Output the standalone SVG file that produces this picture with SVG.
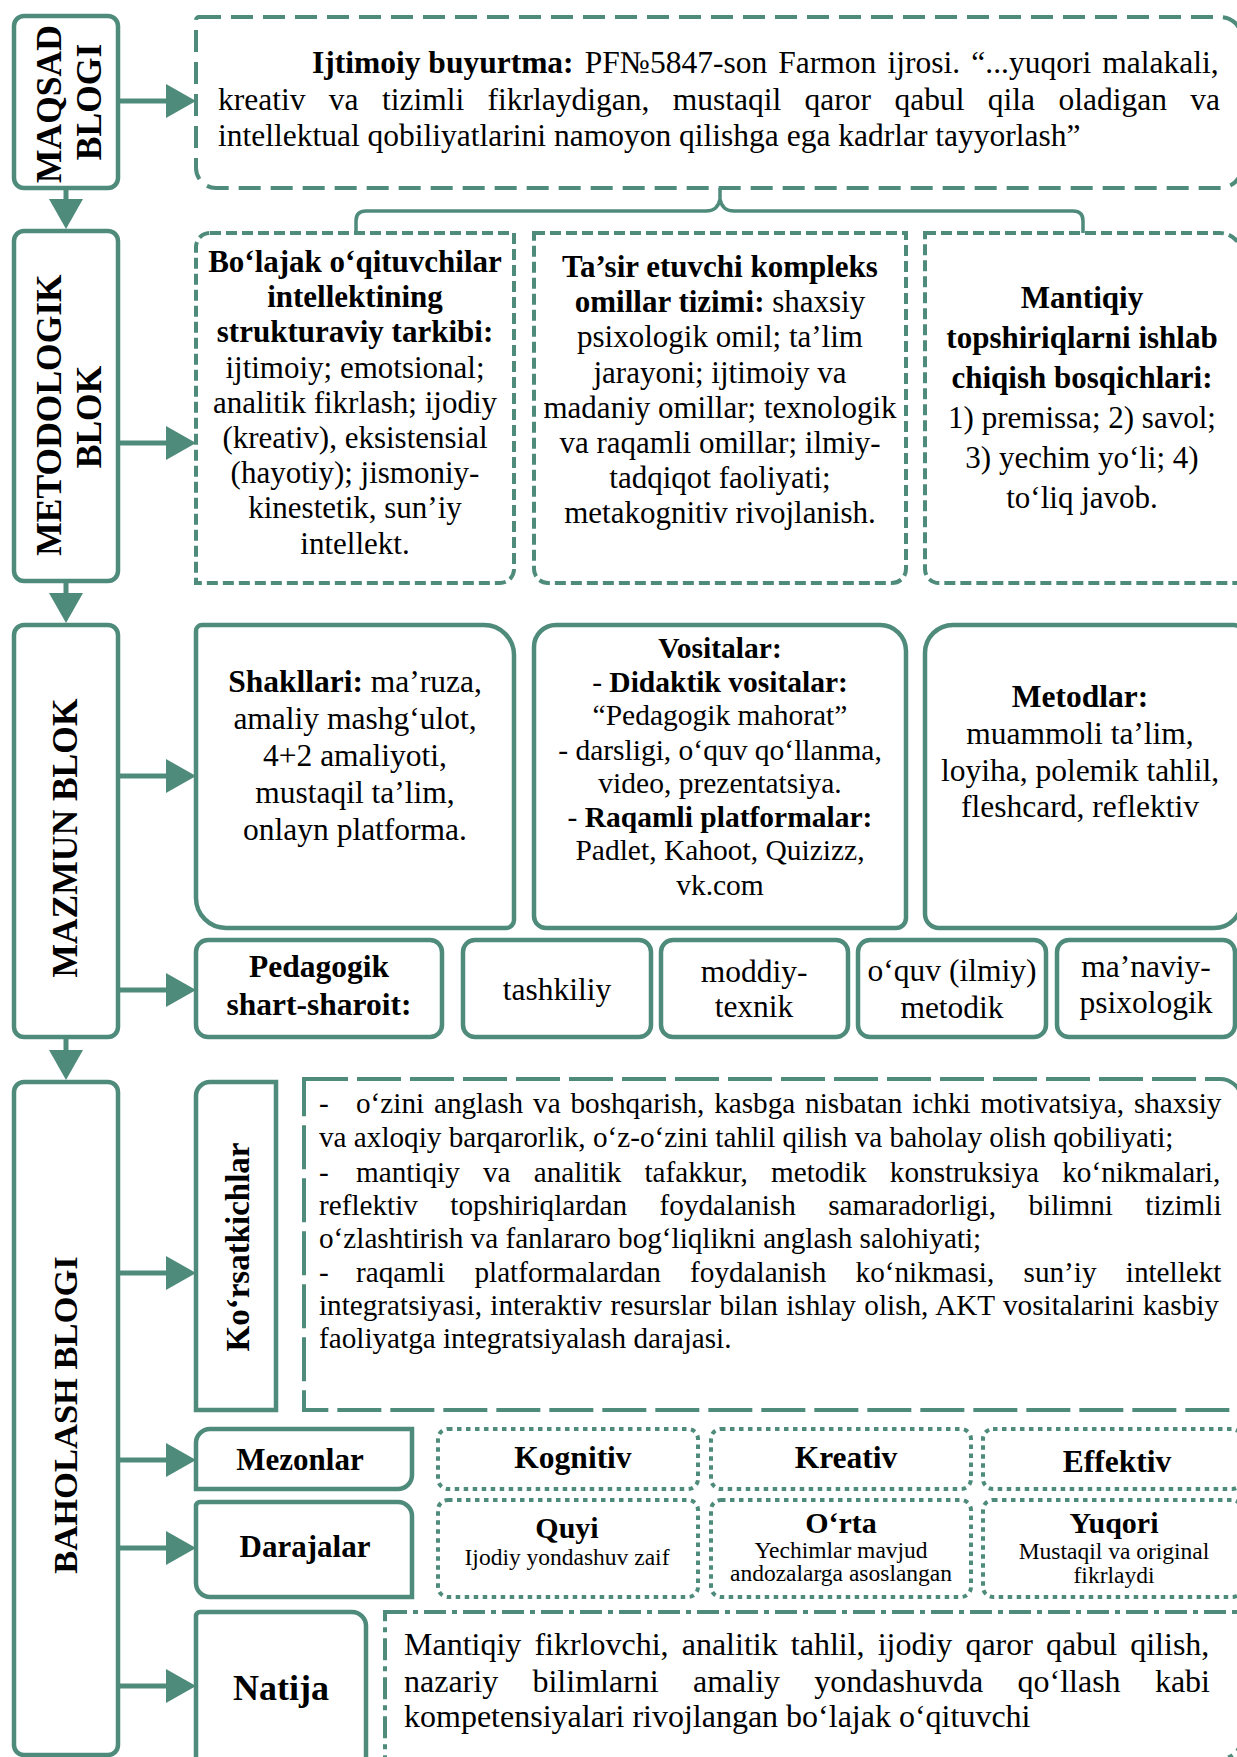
<svg xmlns="http://www.w3.org/2000/svg" width="1237" height="1757" viewBox="0 0 1237 1757">
<style>
.bx{fill:#fff;stroke:#4E8B7B;stroke-width:4.5}
.sd{fill:#fff;stroke:#4E8B7B;stroke-width:4;stroke-dasharray:22 10}
.md{fill:#fff;stroke:#4E8B7B;stroke-width:4;stroke-dasharray:11 5}
.ld{fill:#fff;stroke:#4E8B7B;stroke-width:4;stroke-dasharray:44 9}
.dt{fill:#fff;stroke:#4E8B7B;stroke-width:4;stroke-dasharray:4.5 4.5}
.dd{fill:#fff;stroke:#4E8B7B;stroke-width:4;stroke-dasharray:22 6 5 6}
.ln{stroke:#4E8B7B;stroke-width:5;fill:none}
.brc{stroke:#4E8B7B;stroke-width:3.5;fill:none}
text{font-family:"Liberation Serif","Times New Roman",serif;fill:#000;font-size:31.5px}
.b{font-weight:bold}
.c{text-anchor:middle}
.s31{font-size:31px}
.s29{font-size:29.2px}
.s295{font-size:29.5px}
.s23{font-size:23.5px}
.s30{font-size:30px}
.rl{font-size:35.5px;font-weight:bold;text-anchor:middle}
</style>
<defs>
<marker id="ah" markerUnits="userSpaceOnUse" markerWidth="30" markerHeight="34" refX="15" refY="17" orient="auto">
<path d="M0,0 L30,17 L0,34 Z" fill="#4E8B7B"/>
</marker>
</defs>
<rect width="1237" height="1757" fill="#fff"/>

<g id="maqsad">
<rect class="bx" x="14" y="16" width="104" height="172" rx="10"/>
<text class="rl" transform="translate(61,104) rotate(-90)">MAQSAD</text>
<text class="rl" transform="translate(101,102) rotate(-90)">BLOGI</text>
</g>
<g id="ijtimoiy">
<path class="sd" d="M199,17 H1220 A22,22 0 0 1 1242,39 V166 A22,22 0 0 1 1220,188 H216 A20,20 0 0 1 196,168 V20 A3,3 0 0 1 199,17 Z"/>
<text x="312" y="73"><tspan class="b">Ijtimoiy buyurtma:</tspan><tspan word-spacing="3.3"> PF№5847-son Farmon ijrosi. “...yuqori malakali,</tspan></text>
<text x="218" y="110" word-spacing="15.5">kreativ va tizimli fikrlaydigan, mustaqil qaror qabul qila oladigan va</text>
<text x="218" y="146">intellektual qobiliyatlarini namoyon qilishga ega kadrlar tayyorlash”</text>
</g>

<g id="metodologik">
<rect class="bx" x="14" y="231" width="104" height="350" rx="10"/>
<text class="rl" transform="translate(61,415) rotate(-90)">METODOLOGIK</text>
<text class="rl" transform="translate(101,417) rotate(-90)">BLOK</text>
</g>
<g id="bolajak">
<path class="md" d="M210,233 H514 V569 A14,14 0 0 1 500,583 H196 V247 A14,14 0 0 1 210,233 Z"/>
<text class="c b s31" x="355" y="272">Bo‘lajak o‘qituvchilar</text>
<text class="c b s31" x="355" y="307">intellektining</text>
<text class="c b s31" x="355" y="342">strukturaviy tarkibi:</text>
<text class="c s31" x="355" y="378">ijtimoiy; emotsional;</text>
<text class="c s31" x="355" y="413">analitik fikrlash; ijodiy</text>
<text class="c s31" x="355" y="448">(kreativ), eksistensial</text>
<text class="c s31" x="355" y="483">(hayotiy); jismoniy-</text>
<text class="c s31" x="355" y="518">kinestetik, sun’iy</text>
<text class="c s31" x="355" y="554">intellekt.</text>
</g>
<g id="tasir">
<path class="md" d="M534,233 H906 V569 A14,14 0 0 1 892,583 H548 A14,14 0 0 1 534,569 Z"/>
<text class="c b s31" x="720" y="277">Ta’sir etuvchi kompleks</text>
<text class="c s31" x="720" y="312"><tspan class="b">omillar tizimi:</tspan> shaxsiy</text>
<text class="c s31" x="720" y="347">psixologik omil; ta’lim</text>
<text class="c s31" x="720" y="383">jarayoni; ijtimoiy va</text>
<text class="c s31" x="720" y="418">madaniy omillar; texnologik</text>
<text class="c s31" x="720" y="453">va raqamli omillar; ilmiy-</text>
<text class="c s31" x="720" y="488">tadqiqot faoliyati;</text>
<text class="c s31" x="720" y="523">metakognitiv rivojlanish.</text>
</g>
<g id="mantiqiy">
<path class="md" d="M925,233 H1220 A22,22 0 0 1 1242,255 V583 H939 A14,14 0 0 1 925,569 Z"/>
<text class="c b s31" x="1082" y="308">Mantiqiy</text>
<text class="c b s31" x="1082" y="348">topshiriqlarni ishlab</text>
<text class="c b s31" x="1082" y="388">chiqish bosqichlari:</text>
<text class="c s31" x="1082" y="428">1) premissa; 2) savol;</text>
<text class="c s31" x="1082" y="468">3) yechim yo‘li; 4)</text>
<text class="c s31" x="1082" y="508">to‘liq javob.</text>
</g>

<g id="mazmun">
<rect class="bx" x="14" y="625" width="104" height="412" rx="10"/>
<text class="rl" transform="translate(77,838) rotate(-90)">MAZMUN BLOK</text>
</g>
<g id="shakllari">
<path class="bx" d="M202,625 H484 A30,30 0 0 1 514,655 V920 A8,8 0 0 1 506,928 H226 A30,30 0 0 1 196,898 V631 A6,6 0 0 1 202,625 Z"/>
<text class="c" x="355" y="692"><tspan class="b">Shakllari:</tspan> ma’ruza,</text>
<text class="c" x="355" y="729">amaliy mashg‘ulot,</text>
<text class="c" x="355" y="766">4+2 amaliyoti,</text>
<text class="c" x="355" y="803">mustaqil ta’lim,</text>
<text class="c" x="355" y="840">onlayn platforma.</text>
</g>
<g id="vositalar">
<path class="bx" d="M556,625 H880 A26,26 0 0 1 906,651 V918 A10,10 0 0 1 896,928 H546 A12,12 0 0 1 534,916 V647 A22,22 0 0 1 556,625 Z"/>
<text class="c b s295" x="720" y="658">Vositalar:</text>
<text class="c s295" x="720" y="692">- <tspan class="b">Didaktik vositalar:</tspan></text>
<text class="c s295" x="720" y="725">“Pedagogik mahorat”</text>
<text class="c s295" x="720" y="760">- darsligi, o‘quv qo‘llanma,</text>
<text class="c s295" x="720" y="793">video, prezentatsiya.</text>
<text class="c s295" x="720" y="827">- <tspan class="b">Raqamli platformalar:</tspan></text>
<text class="c s295" x="720" y="860">Padlet, Kahoot, Quizizz,</text>
<text class="c s295" x="720" y="895">vk.com</text>
</g>
<g id="metodlar">
<path class="bx" d="M953,625 H1234 A8,8 0 0 1 1242,633 V900 A28,28 0 0 1 1214,928 H939 A14,14 0 0 1 925,914 V653 A28,28 0 0 1 953,625 Z"/>
<text class="c b" x="1080" y="707">Metodlar:</text>
<text class="c" x="1080" y="744">muammoli ta’lim,</text>
<text class="c" x="1080" y="781">loyiha, polemik tahlil,</text>
<text class="c" x="1080" y="817">fleshcard, reflektiv</text>
</g>
<g id="pedagogik">
<rect class="bx" x="196" y="940" width="246" height="97" rx="12"/>
<text class="c b" x="319" y="977">Pedagogik</text>
<text class="c b" x="319" y="1015">shart-sharoit:</text>
</g>
<g id="tashkiliy">
<rect class="bx" x="463" y="940" width="188" height="97" rx="12"/>
<text class="c" x="557" y="1000">tashkiliy</text>
</g>
<g id="moddiy">
<rect class="bx" x="661" y="940" width="187" height="97" rx="12"/>
<text class="c" x="754" y="982">moddiy-</text>
<text class="c" x="754" y="1017">texnik</text>
</g>
<g id="oquv">
<rect class="bx" x="858" y="940" width="188" height="97" rx="12"/>
<text class="c" x="952" y="981">o‘quv (ilmiy)</text>
<text class="c" x="952" y="1018">metodik</text>
</g>
<g id="manaviy">
<rect class="bx" x="1057" y="940" width="178" height="97" rx="12"/>
<text class="c" x="1146" y="977">ma’naviy-</text>
<text class="c" x="1146" y="1013">psixologik</text>
</g>

<g id="baholash">
<rect class="bx" x="14" y="1082" width="104" height="673" rx="10"/>
<text class="rl" style="font-size:34.5px" transform="translate(77,1415) rotate(-90)">BAHOLASH BLOGI</text>
</g>
<g id="korsatkichlar">
<path class="bx" d="M210,1082 H276 V1410 H196 V1096 A14,14 0 0 1 210,1082 Z"/>
<text class="c b" style="font-size:33px" transform="translate(249,1247) rotate(-90)">Ko‘rsatkichlar</text>
</g>
<g id="korsatkich-matn">
<path class="ld" d="M304,1079 H1220 A22,22 0 0 1 1242,1101 V1410 H304 Z"/>
<text class="s29" x="319" y="1113">-</text>
<text class="s29" x="356" y="1113" word-spacing="2.6">o‘zini anglash va boshqarish, kasbga nisbatan ichki motivatsiya, shaxsiy</text>
<text class="s29" x="319" y="1147">va axloqiy barqarorlik, o‘z-o‘zini tahlil qilish va baholay olish qobiliyati;</text>
<text class="s29" x="319" y="1182">-</text>
<text class="s29" x="356" y="1182" word-spacing="15.9">mantiqiy va analitik tafakkur, metodik konstruksiya ko‘nikmalari,</text>
<text class="s29" x="319" y="1215" word-spacing="25.2">reflektiv topshiriqlardan foydalanish samaradorligi, bilimni tizimli</text>
<text class="s29" x="319" y="1248">o‘zlashtirish va fanlararo bog‘liqlikni anglash salohiyati;</text>
<text class="s29" x="319" y="1282">-</text>
<text class="s29" x="356" y="1282" word-spacing="22">raqamli platformalardan foydalanish ko‘nikmasi, sun’iy intellekt</text>
<text class="s29" x="319" y="1315" word-spacing="1.1">integratsiyasi, interaktiv resurslar bilan ishlay olish, AKT vositalarini kasbiy</text>
<text class="s29" x="319" y="1348">faoliyatga integratsiyalash darajasi.</text>
</g>
<g id="mezonlar">
<path class="bx" d="M210,1429 H412 V1475 A14,14 0 0 1 398,1489 H196 V1443 A14,14 0 0 1 210,1429 Z"/>
<text class="c b s31" x="300" y="1470">Mezonlar</text>
</g>
<g id="kognitiv">
<rect class="dt" x="438" y="1429" width="260" height="60" rx="10"/>
<text class="c b" x="573" y="1468">Kognitiv</text>
</g>
<g id="kreativ">
<rect class="dt" x="711" y="1429" width="260" height="60" rx="10"/>
<text class="c b" x="846" y="1468">Kreativ</text>
</g>
<g id="effektiv">
<rect class="dt" x="983" y="1429" width="259" height="60" rx="10"/>
<text class="c b" x="1117" y="1472">Effektiv</text>
</g>
<g id="darajalar">
<path class="bx" d="M200,1502 H398 A14,14 0 0 1 412,1516 V1597 H210 A14,14 0 0 1 196,1583 V1506 A4,4 0 0 1 200,1502 Z"/>
<text class="c b s31" x="305" y="1557">Darajalar</text>
</g>
<g id="quyi">
<rect class="dt" x="438" y="1500" width="260" height="97" rx="10"/>
<text class="c b s30" x="567" y="1538">Quyi</text>
<text class="c s23" x="567" y="1565">Ijodiy yondashuv zaif</text>
</g>
<g id="orta">
<rect class="dt" x="711" y="1500" width="260" height="97" rx="10"/>
<text class="c b s30" x="841" y="1533">O‘rta</text>
<text class="c s23" x="841" y="1558">Yechimlar mavjud</text>
<text class="c s23" x="841" y="1581">andozalarga asoslangan</text>
</g>
<g id="yuqori">
<rect class="dt" x="983" y="1500" width="259" height="97" rx="10"/>
<text class="c b s30" x="1114" y="1533">Yuqori</text>
<text class="c s23" x="1114" y="1559">Mustaqil va original</text>
<text class="c s23" x="1114" y="1583">fikrlaydi</text>
</g>
<g id="natija">
<path class="bx" d="M200,1612 H352 A14,14 0 0 1 366,1626 V1770 H196 V1616 A4,4 0 0 1 200,1612 Z"/>
<text class="c b" style="font-size:36px" x="281" y="1700">Natija</text>
</g>
<g id="natija-matn">
<path class="dd" d="M385,1612 H1242 V1737 A22,22 0 0 1 1220,1759 H385 Z"/>
<text style="font-size:32px" x="404" y="1655" word-spacing="5.1">Mantiqiy fikrlovchi, analitik tahlil, ijodiy qaror qabul qilish,</text>
<text style="font-size:32px" x="404" y="1692" word-spacing="26.3">nazariy bilimlarni amaliy yondashuvda qo‘llash kabi</text>
<text style="font-size:32px" x="404" y="1727">kompetensiyalari rivojlangan bo‘lajak o‘qituvchi</text>
</g>

<g id="connectors">
<line class="ln" x1="118" y1="101" x2="181" y2="101" marker-end="url(#ah)"/>
<line class="ln" x1="118" y1="443" x2="181" y2="443" marker-end="url(#ah)"/>
<line class="ln" x1="118" y1="776" x2="181" y2="776" marker-end="url(#ah)"/>
<line class="ln" x1="118" y1="990" x2="181" y2="990" marker-end="url(#ah)"/>
<line class="ln" x1="118" y1="1273" x2="181" y2="1273" marker-end="url(#ah)"/>
<line class="ln" x1="118" y1="1460" x2="181" y2="1460" marker-end="url(#ah)"/>
<line class="ln" x1="118" y1="1548" x2="181" y2="1548" marker-end="url(#ah)"/>
<line class="ln" x1="118" y1="1686" x2="181" y2="1686" marker-end="url(#ah)"/>
<line class="ln" x1="66" y1="188" x2="66" y2="214" marker-end="url(#ah)"/>
<line class="ln" x1="66" y1="581" x2="66" y2="608" marker-end="url(#ah)"/>
<line class="ln" x1="66" y1="1037" x2="66" y2="1065" marker-end="url(#ah)"/>
<path class="brc" d="M356,233 V221 Q356,211 366,211 H706 Q718,211 720,199 V188 M720,199 Q722,211 734,211 H1073 Q1083,211 1083,221 V233"/>
</g>
</svg>
